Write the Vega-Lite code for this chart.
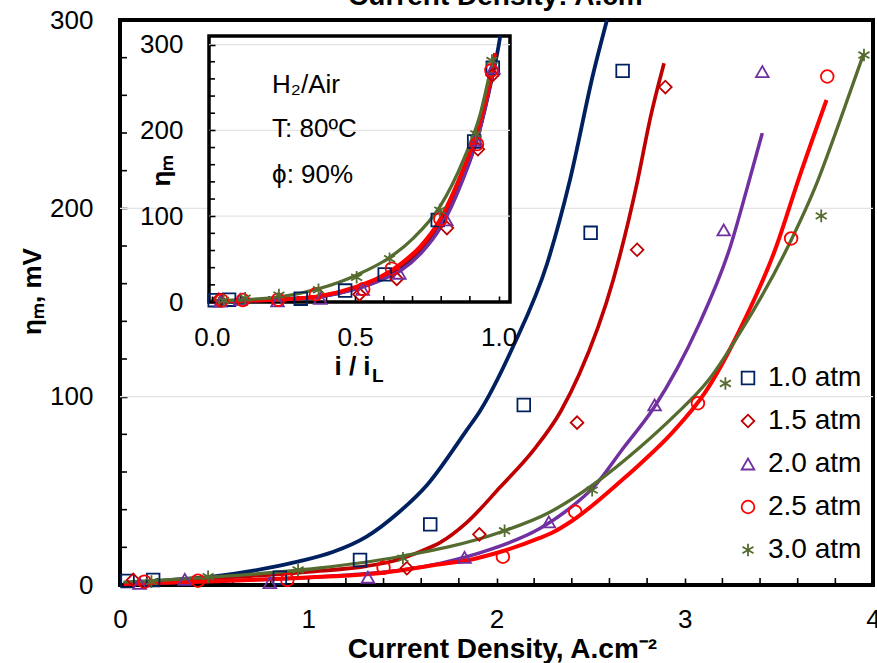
{
  "$schema": "https://vega.github.io/schema/vega-lite/v6.json",
  "width": 753,
  "height": 565,
  "autosize": {"type": "none"},
  "padding": {"left": 120, "top": 20, "right": 4, "bottom": 78},
  "background": "white",
  "config": {
    "font": "Liberation Sans",
    "view": {"stroke": "black", "strokeWidth": 4},
    "axis": {
      "labelFont": "Liberation Sans",
      "labelFontSize": 26,
      "labelColor": "black",
      "titleFont": "Liberation Sans",
      "titleFontSize": 26,
      "titleFontWeight": "bold",
      "titleColor": "black",
      "tickColor": "black",
      "tickWidth": 1.6,
      "domain": false,
      "grid": false
    },
    "legend": {
      "labelFont": "Liberation Sans",
      "labelFontSize": 28,
      "labelColor": "black",
      "symbolSize": 160,
      "symbolStrokeWidth": 1.8,
      "rowPadding": 15,
      "labelOffset": 6,
      "padding": 0
    }
  },
  "datasets": {
    "fit": [
      {"s": "1.0 atm", "j": 0.02, "eta": 1},
      {"s": "1.0 atm", "j": 0.25, "eta": 2.5},
      {"s": "1.0 atm", "j": 0.49, "eta": 4.4},
      {"s": "1.0 atm", "j": 0.78, "eta": 8.9},
      {"s": "1.0 atm", "j": 0.95, "eta": 12.5},
      {"s": "1.0 atm", "j": 1.13, "eta": 17.5},
      {"s": "1.0 atm", "j": 1.31, "eta": 25.7},
      {"s": "1.0 atm", "j": 1.48, "eta": 38.5},
      {"s": "1.0 atm", "j": 1.63, "eta": 53},
      {"s": "1.0 atm", "j": 1.84, "eta": 82},
      {"s": "1.0 atm", "j": 1.91, "eta": 92},
      {"s": "1.0 atm", "j": 2.09, "eta": 127},
      {"s": "1.0 atm", "j": 2.27, "eta": 171},
      {"s": "1.0 atm", "j": 2.39, "eta": 215},
      {"s": "1.0 atm", "j": 2.515, "eta": 272},
      {"s": "1.0 atm", "j": 2.587, "eta": 300},
      {"s": "1.5 atm", "j": 0.02, "eta": 1},
      {"s": "1.5 atm", "j": 0.5, "eta": 3.5},
      {"s": "1.5 atm", "j": 1.0, "eta": 7},
      {"s": "1.5 atm", "j": 1.31, "eta": 10},
      {"s": "1.5 atm", "j": 1.48, "eta": 13.5},
      {"s": "1.5 atm", "j": 1.6, "eta": 18},
      {"s": "1.5 atm", "j": 1.7, "eta": 22.5},
      {"s": "1.5 atm", "j": 1.84, "eta": 33},
      {"s": "1.5 atm", "j": 2.02, "eta": 52},
      {"s": "1.5 atm", "j": 2.2, "eta": 72},
      {"s": "1.5 atm", "j": 2.34, "eta": 92},
      {"s": "1.5 atm", "j": 2.44, "eta": 112},
      {"s": "1.5 atm", "j": 2.62, "eta": 162},
      {"s": "1.5 atm", "j": 2.75, "eta": 215},
      {"s": "1.5 atm", "j": 2.815, "eta": 247},
      {"s": "1.5 atm", "j": 2.89, "eta": 277},
      {"s": "2.0 atm", "j": 0.02, "eta": 0.5},
      {"s": "2.0 atm", "j": 0.5, "eta": 2},
      {"s": "2.0 atm", "j": 1.0, "eta": 4},
      {"s": "2.0 atm", "j": 1.3, "eta": 6},
      {"s": "2.0 atm", "j": 1.5, "eta": 8},
      {"s": "2.0 atm", "j": 1.7, "eta": 11.5},
      {"s": "2.0 atm", "j": 1.96, "eta": 18.6},
      {"s": "2.0 atm", "j": 2.23, "eta": 30},
      {"s": "2.0 atm", "j": 2.4, "eta": 41.6},
      {"s": "2.0 atm", "j": 2.516, "eta": 52},
      {"s": "2.0 atm", "j": 2.676, "eta": 73},
      {"s": "2.0 atm", "j": 2.835, "eta": 94},
      {"s": "2.0 atm", "j": 2.96, "eta": 115},
      {"s": "2.0 atm", "j": 3.074, "eta": 138},
      {"s": "2.0 atm", "j": 3.243, "eta": 180},
      {"s": "2.0 atm", "j": 3.332, "eta": 211},
      {"s": "2.0 atm", "j": 3.412, "eta": 240},
      {"s": "2.5 atm", "j": 0.02, "eta": 0.5},
      {"s": "2.5 atm", "j": 0.5, "eta": 2},
      {"s": "2.5 atm", "j": 1.0, "eta": 4},
      {"s": "2.5 atm", "j": 1.4, "eta": 6.5},
      {"s": "2.5 atm", "j": 1.7, "eta": 11},
      {"s": "2.5 atm", "j": 1.84, "eta": 13},
      {"s": "2.5 atm", "j": 2.0, "eta": 17},
      {"s": "2.5 atm", "j": 2.23, "eta": 25},
      {"s": "2.5 atm", "j": 2.3, "eta": 28},
      {"s": "2.5 atm", "j": 2.4, "eta": 34},
      {"s": "2.5 atm", "j": 2.67, "eta": 56},
      {"s": "2.5 atm", "j": 2.76, "eta": 64},
      {"s": "2.5 atm", "j": 2.93, "eta": 80.5},
      {"s": "2.5 atm", "j": 3.11, "eta": 102.5},
      {"s": "2.5 atm", "j": 3.29, "eta": 135},
      {"s": "2.5 atm", "j": 3.48, "eta": 178},
      {"s": "2.5 atm", "j": 3.61, "eta": 217},
      {"s": "2.5 atm", "j": 3.753, "eta": 257.5},
      {"s": "3.0 atm", "j": 0.02, "eta": 1.5},
      {"s": "3.0 atm", "j": 0.52, "eta": 4.4},
      {"s": "3.0 atm", "j": 1.05, "eta": 8.9},
      {"s": "3.0 atm", "j": 1.48, "eta": 15},
      {"s": "3.0 atm", "j": 2.02, "eta": 28},
      {"s": "3.0 atm", "j": 2.28, "eta": 38.5},
      {"s": "3.0 atm", "j": 2.51, "eta": 53},
      {"s": "3.0 atm", "j": 2.765, "eta": 73.4},
      {"s": "3.0 atm", "j": 2.94, "eta": 89.4},
      {"s": "3.0 atm", "j": 3.12, "eta": 108},
      {"s": "3.0 atm", "j": 3.3, "eta": 135},
      {"s": "3.0 atm", "j": 3.54, "eta": 178},
      {"s": "3.0 atm", "j": 3.7, "eta": 213},
      {"s": "3.0 atm", "j": 3.826, "eta": 247},
      {"s": "3.0 atm", "j": 3.95, "eta": 282}
    ],
    "pts": [
      {"s": "1.0 atm", "j": 0.04, "eta": 2.1},
      {"s": "1.0 atm", "j": 0.176, "eta": 2.7},
      {"s": "1.0 atm", "j": 0.849, "eta": 3.9},
      {"s": "1.0 atm", "j": 1.275, "eta": 13.3},
      {"s": "1.0 atm", "j": 1.648, "eta": 32.2},
      {"s": "1.0 atm", "j": 2.145, "eta": 95.6},
      {"s": "1.0 atm", "j": 2.5, "eta": 187},
      {"s": "1.0 atm", "j": 2.67, "eta": 273},
      {"s": "1.5 atm", "j": 0.07, "eta": 2.7},
      {"s": "1.5 atm", "j": 1.524, "eta": 8.9},
      {"s": "1.5 atm", "j": 1.909, "eta": 26.9},
      {"s": "1.5 atm", "j": 2.428, "eta": 86.2},
      {"s": "1.5 atm", "j": 2.747, "eta": 178},
      {"s": "1.5 atm", "j": 2.897, "eta": 264.4},
      {"s": "2.0 atm", "j": 0.104, "eta": 0.9},
      {"s": "2.0 atm", "j": 0.344, "eta": 3},
      {"s": "2.0 atm", "j": 0.796, "eta": 1.2},
      {"s": "2.0 atm", "j": 1.317, "eta": 4.1},
      {"s": "2.0 atm", "j": 1.83, "eta": 14.7},
      {"s": "2.0 atm", "j": 2.278, "eta": 33.5},
      {"s": "2.0 atm", "j": 2.84, "eta": 95.6},
      {"s": "2.0 atm", "j": 3.207, "eta": 188.5},
      {"s": "2.0 atm", "j": 3.412, "eta": 272.6},
      {"s": "2.5 atm", "j": 0.13, "eta": 1.8},
      {"s": "2.5 atm", "j": 0.414, "eta": 2.3},
      {"s": "2.5 atm", "j": 0.889, "eta": 2.7},
      {"s": "2.5 atm", "j": 1.4, "eta": 9.2},
      {"s": "2.5 atm", "j": 2.034, "eta": 15},
      {"s": "2.5 atm", "j": 2.418, "eta": 38.9},
      {"s": "2.5 atm", "j": 3.07, "eta": 96.5},
      {"s": "2.5 atm", "j": 3.565, "eta": 184},
      {"s": "2.5 atm", "j": 3.757, "eta": 270},
      {"s": "3.0 atm", "j": 0.167, "eta": 1.8},
      {"s": "3.0 atm", "j": 0.468, "eta": 4.4},
      {"s": "3.0 atm", "j": 0.946, "eta": 8},
      {"s": "3.0 atm", "j": 1.503, "eta": 14.2},
      {"s": "3.0 atm", "j": 2.043, "eta": 28.8},
      {"s": "3.0 atm", "j": 2.508, "eta": 50.4},
      {"s": "3.0 atm", "j": 3.216, "eta": 107},
      {"s": "3.0 atm", "j": 3.725, "eta": 196},
      {"s": "3.0 atm", "j": 3.952, "eta": 281.4}
    ],
    "ifit": [
      {"s": "1.0 atm", "r": 0, "eta": 1},
      {"s": "1.0 atm", "r": 0.1, "eta": 1.5},
      {"s": "1.0 atm", "r": 0.24, "eta": 3},
      {"s": "1.0 atm", "r": 0.38, "eta": 6.5},
      {"s": "1.0 atm", "r": 0.506, "eta": 16},
      {"s": "1.0 atm", "r": 0.6, "eta": 28},
      {"s": "1.0 atm", "r": 0.66, "eta": 39},
      {"s": "1.0 atm", "r": 0.73, "eta": 58},
      {"s": "1.0 atm", "r": 0.8, "eta": 90},
      {"s": "1.0 atm", "r": 0.87, "eta": 140},
      {"s": "1.0 atm", "r": 0.93, "eta": 196},
      {"s": "1.0 atm", "r": 0.975, "eta": 258},
      {"s": "1.0 atm", "r": 1.0, "eta": 298},
      {"s": "1.0 atm", "r": 1.006, "eta": 310},
      {"s": "1.5 atm", "r": 0, "eta": 1},
      {"s": "1.5 atm", "r": 0.1, "eta": 1.5},
      {"s": "1.5 atm", "r": 0.24, "eta": 3},
      {"s": "1.5 atm", "r": 0.38, "eta": 7},
      {"s": "1.5 atm", "r": 0.506, "eta": 17},
      {"s": "1.5 atm", "r": 0.59, "eta": 29},
      {"s": "1.5 atm", "r": 0.66, "eta": 43},
      {"s": "1.5 atm", "r": 0.73, "eta": 63},
      {"s": "1.5 atm", "r": 0.8, "eta": 96},
      {"s": "1.5 atm", "r": 0.87, "eta": 148},
      {"s": "1.5 atm", "r": 0.93, "eta": 203},
      {"s": "1.5 atm", "r": 0.98, "eta": 275},
      {"s": "2.0 atm", "r": 0, "eta": 0.5},
      {"s": "2.0 atm", "r": 0.1, "eta": 1.3},
      {"s": "2.0 atm", "r": 0.24, "eta": 2.5},
      {"s": "2.0 atm", "r": 0.38, "eta": 6},
      {"s": "2.0 atm", "r": 0.506, "eta": 15.5},
      {"s": "2.0 atm", "r": 0.6, "eta": 27},
      {"s": "2.0 atm", "r": 0.66, "eta": 37},
      {"s": "2.0 atm", "r": 0.73, "eta": 57},
      {"s": "2.0 atm", "r": 0.8, "eta": 88},
      {"s": "2.0 atm", "r": 0.87, "eta": 138},
      {"s": "2.0 atm", "r": 0.93, "eta": 195},
      {"s": "2.0 atm", "r": 0.982, "eta": 270},
      {"s": "2.5 atm", "r": 0, "eta": 1},
      {"s": "2.5 atm", "r": 0.1, "eta": 1.5},
      {"s": "2.5 atm", "r": 0.24, "eta": 3},
      {"s": "2.5 atm", "r": 0.38, "eta": 7},
      {"s": "2.5 atm", "r": 0.506, "eta": 18},
      {"s": "2.5 atm", "r": 0.587, "eta": 29},
      {"s": "2.5 atm", "r": 0.657, "eta": 44},
      {"s": "2.5 atm", "r": 0.727, "eta": 64.7},
      {"s": "2.5 atm", "r": 0.796, "eta": 96},
      {"s": "2.5 atm", "r": 0.866, "eta": 146},
      {"s": "2.5 atm", "r": 0.924, "eta": 197},
      {"s": "2.5 atm", "r": 0.971, "eta": 258},
      {"s": "2.5 atm", "r": 0.988, "eta": 290},
      {"s": "3.0 atm", "r": 0, "eta": 1.5},
      {"s": "3.0 atm", "r": 0.1, "eta": 2.5},
      {"s": "3.0 atm", "r": 0.238, "eta": 6},
      {"s": "3.0 atm", "r": 0.378, "eta": 16},
      {"s": "3.0 atm", "r": 0.506, "eta": 31.6},
      {"s": "3.0 atm", "r": 0.616, "eta": 51},
      {"s": "3.0 atm", "r": 0.703, "eta": 74.5},
      {"s": "3.0 atm", "r": 0.796, "eta": 111.5},
      {"s": "3.0 atm", "r": 0.878, "eta": 166},
      {"s": "3.0 atm", "r": 0.936, "eta": 218.7},
      {"s": "3.0 atm", "r": 0.977, "eta": 277},
      {"s": "3.0 atm", "r": 0.983, "eta": 285}
    ],
    "ipts": [
      {"s": "1.0 atm", "r": 0.01, "eta": 2.1},
      {"s": "1.0 atm", "r": 0.06, "eta": 2.7},
      {"s": "1.0 atm", "r": 0.31, "eta": 3.9},
      {"s": "1.0 atm", "r": 0.465, "eta": 13.3},
      {"s": "1.0 atm", "r": 0.603, "eta": 32.2},
      {"s": "1.0 atm", "r": 0.788, "eta": 95.6},
      {"s": "1.0 atm", "r": 0.915, "eta": 187},
      {"s": "1.0 atm", "r": 0.98, "eta": 273},
      {"s": "1.5 atm", "r": 0.024, "eta": 2.7},
      {"s": "1.5 atm", "r": 0.515, "eta": 8.9},
      {"s": "1.5 atm", "r": 0.645, "eta": 26.9},
      {"s": "1.5 atm", "r": 0.82, "eta": 86.2},
      {"s": "1.5 atm", "r": 0.928, "eta": 178},
      {"s": "1.5 atm", "r": 0.979, "eta": 264.4},
      {"s": "2.0 atm", "r": 0.03, "eta": 0.9},
      {"s": "2.0 atm", "r": 0.099, "eta": 3},
      {"s": "2.0 atm", "r": 0.229, "eta": 1.2},
      {"s": "2.0 atm", "r": 0.378, "eta": 4.1},
      {"s": "2.0 atm", "r": 0.526, "eta": 14.7},
      {"s": "2.0 atm", "r": 0.654, "eta": 33.5},
      {"s": "2.0 atm", "r": 0.818, "eta": 95.6},
      {"s": "2.0 atm", "r": 0.922, "eta": 188.5},
      {"s": "2.0 atm", "r": 0.982, "eta": 272.6},
      {"s": "2.5 atm", "r": 0.034, "eta": 1.8},
      {"s": "2.5 atm", "r": 0.108, "eta": 2.3},
      {"s": "2.5 atm", "r": 0.231, "eta": 2.7},
      {"s": "2.5 atm", "r": 0.363, "eta": 9.2},
      {"s": "2.5 atm", "r": 0.528, "eta": 15},
      {"s": "2.5 atm", "r": 0.628, "eta": 38.9},
      {"s": "2.5 atm", "r": 0.797, "eta": 96.5},
      {"s": "2.5 atm", "r": 0.925, "eta": 184},
      {"s": "2.5 atm", "r": 0.975, "eta": 270},
      {"s": "3.0 atm", "r": 0.041, "eta": 1.8},
      {"s": "3.0 atm", "r": 0.116, "eta": 4.4},
      {"s": "3.0 atm", "r": 0.234, "eta": 8},
      {"s": "3.0 atm", "r": 0.372, "eta": 14.2},
      {"s": "3.0 atm", "r": 0.505, "eta": 28.8},
      {"s": "3.0 atm", "r": 0.62, "eta": 50.4},
      {"s": "3.0 atm", "r": 0.795, "eta": 107},
      {"s": "3.0 atm", "r": 0.921, "eta": 196},
      {"s": "3.0 atm", "r": 0.977, "eta": 281.4}
    ]
  },
  "layer": [
    {
      "layer": [
        {
          "data": {"values": [{"g": 100}, {"g": 200}]},
          "mark": {"type": "rule", "color": "#E4E4E4", "strokeWidth": 1.3},
          "encoding": {
            "x": {"datum": 0, "type": "quantitative", "scale": {"domain": [0, 4], "nice": false, "zero": false}},
            "x2": {"datum": 4},
            "y": {"field": "g", "type": "quantitative", "scale": {"domain": [0, 300], "nice": false, "zero": false}}
          }
        },
        {
          "data": {"values": [{"v": 20}, {"v": 40}, {"v": 60}, {"v": 80}, {"v": 120}, {"v": 140}, {"v": 160}, {"v": 180}, {"v": 220}, {"v": 240}, {"v": 260}, {"v": 280}]},
          "mark": {"type": "rule", "color": "black", "strokeWidth": 1.6},
          "encoding": {
            "x": {"datum": 0, "type": "quantitative", "scale": {"domain": [0, 4], "nice": false, "zero": false}},
            "x2": {"datum": 0.037},
            "y": {"field": "v", "type": "quantitative", "scale": {"domain": [0, 300], "nice": false, "zero": false}}
          }
        },
        {
          "data": {"values": [{"v": 0.2}, {"v": 0.4}, {"v": 0.6}, {"v": 0.8}, {"v": 1.2}, {"v": 1.4}, {"v": 1.6}, {"v": 1.8}, {"v": 2.2}, {"v": 2.4}, {"v": 2.6}, {"v": 2.8}, {"v": 3.2}, {"v": 3.4}, {"v": 3.6}, {"v": 3.8}]},
          "mark": {"type": "rule", "color": "black", "strokeWidth": 1.6},
          "encoding": {
            "x": {"field": "v", "type": "quantitative", "scale": {"domain": [0, 4], "nice": false, "zero": false}},
            "y": {"datum": 0, "type": "quantitative", "scale": {"domain": [0, 300], "nice": false, "zero": false}},
            "y2": {"datum": 3.7}
          }
        },
        {
          "data": {"name": "fit"},
          "mark": {"type": "line", "interpolate": "monotone"},
          "encoding": {
            "x": {
              "field": "j", "type": "quantitative",
              "scale": {"domain": [0, 4], "nice": false, "zero": false},
              "axis": {
                "orient": "bottom",
                "values": [0, 1, 2, 3, 4],
                "format": "d",
                "tickSize": -7,
                "labelPadding": 49,
                "labelBaseline": "alphabetic",
                "labelFlush": false,
                "labelOverlap": false,
                "zindex": 0,
                "title": "Current Density, A.cm⁻²",
                "titleFontSize": 28,
                "titleX": 382,
                "titleY": 72,
                "titleAlign": "center",
                "titleBaseline": "alphabetic"
              }
            },
            "y": {
              "field": "eta", "type": "quantitative",
              "scale": {"domain": [0, 300], "nice": false, "zero": false},
              "axis": {
                "orient": "left",
                "values": [0, 100, 200, 300],
                "format": "d",
                "tickSize": -7,
                "labelPadding": 34,
                "labelBaseline": "middle",
                "labelFlush": false,
                "labelOverlap": false,
                "zindex": 0,
                "title": "ηₘ, mV",
                "titleX": -88,
                "titleY": 271,
                "titleAngle": -90,
                "titleAlign": "center",
                "titleBaseline": "middle"
              }
            },
            "stroke": {
              "field": "s", "type": "nominal",
              "scale": {"domain": ["3.0 atm", "2.5 atm", "2.0 atm", "1.5 atm", "1.0 atm"], "range": ["#556B2F", "#FF0000", "#7030A0", "#C00000", "#002060"]},
              "legend": null
            },
            "strokeWidth": {
              "field": "s", "type": "nominal",
              "scale": {"domain": ["2.5 atm", "1.0 atm", "1.5 atm", "2.0 atm", "3.0 atm"], "range": [4, 3.3, 3.3, 3.3, 3.4]},
              "legend": null
            }
          }
        },
        {
          "data": {"name": "pts"},
          "mark": {"type": "point", "filled": false, "strokeWidth": 1.8, "opacity": 1, "size": 160},
          "encoding": {
            "x": {"field": "j", "type": "quantitative", "scale": {"domain": [0, 4], "nice": false, "zero": false}},
            "y": {"field": "eta", "type": "quantitative", "scale": {"domain": [0, 300], "nice": false, "zero": false}},
            "color": {
              "field": "s", "type": "nominal",
              "scale": {"domain": ["1.0 atm", "1.5 atm", "2.0 atm", "2.5 atm", "3.0 atm"], "range": ["#002060", "#C00000", "#7030A0", "#FF0000", "#556B2F"]},
              "legend": {"title": null, "orient": "none", "legendX": 614, "legendY": 344}
            },
            "shape": {
              "field": "s", "type": "nominal",
              "scale": {"domain": ["1.0 atm", "1.5 atm", "2.0 atm", "2.5 atm", "3.0 atm"], "range": ["square", "diamond", "triangle-up", "circle", "M0,-1L0,1M-0.87,-0.5L0.87,0.5M-0.87,0.5L0.87,-0.5"]},
              "legend": {"title": null, "orient": "none", "legendX": 614, "legendY": 344}
            }
          }
        },
        {
          "data": {"values": [{}]},
          "mark": {"type": "text", "text": "Current Density: A.cm", "fontSize": 28, "fontWeight": "bold", "align": "center", "baseline": "alphabetic", "color": "black"},
          "encoding": {
            "x": {"datum": 1.994, "type": "quantitative", "scale": {"domain": [0, 4], "nice": false, "zero": false}},
            "y": {"datum": 308, "type": "quantitative", "scale": {"domain": [0, 300], "nice": false, "zero": false}}
          }
        }
      ]
    },
    {
      "layer": [
        {
          "data": {"values": [{}]},
          "mark": {"type": "rect", "fill": "white", "stroke": "black", "strokeWidth": 3.5},
          "encoding": {
            "x": {"datum": -0.01, "type": "quantitative", "scale": {"domain": [-0.01, 1.04], "range": [89, 390], "nice": false, "zero": false}},
            "x2": {"datum": 1.04},
            "y": {"datum": 0, "type": "quantitative", "scale": {"domain": [0, 310], "range": [282, 16], "nice": false, "zero": false}},
            "y2": {"datum": 310}
          }
        },
        {
          "data": {"values": [{"g": 100}, {"g": 200}, {"g": 300}]},
          "mark": {"type": "rule", "color": "#E4E4E4", "strokeWidth": 1.3},
          "encoding": {
            "x": {"datum": -0.01, "type": "quantitative", "scale": {"domain": [-0.01, 1.04], "range": [89, 390], "nice": false, "zero": false}},
            "x2": {"datum": 1.04},
            "y": {"field": "g", "type": "quantitative", "scale": {"domain": [0, 310], "range": [282, 16], "nice": false, "zero": false}}
          }
        },
        {
          "data": {"values": [{"v": 20}, {"v": 40}, {"v": 60}, {"v": 80}, {"v": 120}, {"v": 140}, {"v": 160}, {"v": 180}, {"v": 220}, {"v": 240}, {"v": 260}, {"v": 280}]},
          "mark": {"type": "rule", "color": "black", "strokeWidth": 1.6},
          "encoding": {
            "x": {"datum": -0.01, "type": "quantitative", "scale": {"domain": [-0.01, 1.04], "range": [89, 390], "nice": false, "zero": false}},
            "x2": {"datum": 0.011},
            "y": {"field": "v", "type": "quantitative", "scale": {"domain": [0, 310], "range": [282, 16], "nice": false, "zero": false}}
          }
        },
        {
          "data": {"values": [{"v": 0.1}, {"v": 0.2}, {"v": 0.3}, {"v": 0.4}, {"v": 0.6}, {"v": 0.7}, {"v": 0.8}, {"v": 0.9}]},
          "mark": {"type": "rule", "color": "black", "strokeWidth": 1.6},
          "encoding": {
            "x": {"field": "v", "type": "quantitative", "scale": {"domain": [-0.01, 1.04], "range": [89, 390], "nice": false, "zero": false}},
            "y": {"datum": 0, "type": "quantitative", "scale": {"domain": [0, 310], "range": [282, 16], "nice": false, "zero": false}},
            "y2": {"datum": 7}
          }
        },
        {
          "data": {"values": [{}]},
          "mark": {"type": "text", "text": "H₂/Air", "fontSize": 26, "align": "left", "baseline": "alphabetic", "color": "black"},
          "encoding": {
            "x": {"datum": 0.21, "type": "quantitative", "scale": {"domain": [-0.01, 1.04], "range": [89, 390], "nice": false, "zero": false}},
            "y": {"datum": 243.6, "type": "quantitative", "scale": {"domain": [0, 310], "range": [282, 16], "nice": false, "zero": false}}
          }
        },
        {
          "data": {"values": [{}]},
          "mark": {"type": "text", "text": "T: 80ºC", "fontSize": 26, "align": "left", "baseline": "alphabetic", "color": "black"},
          "encoding": {
            "x": {"datum": 0.21, "type": "quantitative", "scale": {"domain": [-0.01, 1.04], "range": [89, 390], "nice": false, "zero": false}},
            "y": {"datum": 192.3, "type": "quantitative", "scale": {"domain": [0, 310], "range": [282, 16], "nice": false, "zero": false}}
          }
        },
        {
          "data": {"values": [{}]},
          "mark": {"type": "text", "text": "ϕ: 90%", "fontSize": 26, "align": "left", "baseline": "alphabetic", "color": "black"},
          "encoding": {
            "x": {"datum": 0.21, "type": "quantitative", "scale": {"domain": [-0.01, 1.04], "range": [89, 390], "nice": false, "zero": false}},
            "y": {"datum": 138.7, "type": "quantitative", "scale": {"domain": [0, 310], "range": [282, 16], "nice": false, "zero": false}}
          }
        },
        {
          "data": {"name": "ifit"},
          "mark": {"type": "line", "interpolate": "monotone"},
          "encoding": {
            "x": {
              "field": "r", "type": "quantitative",
              "scale": {"domain": [-0.01, 1.04], "range": [89, 390], "nice": false, "zero": false},
              "axis": {
                "orient": "bottom",
                "offset": -283,
                "values": [0, 0.5, 1],
                "format": ".1f",
                "tickSize": -6,
                "labelPadding": 49,
                "labelBaseline": "alphabetic",
                "labelFlush": false,
                "labelOverlap": false,
                "zindex": 1,
                "title": "i / i",
                "titleX": 232,
                "titleY": 72,
                "titleAlign": "center",
                "titleBaseline": "alphabetic"
              }
            },
            "y": {
              "field": "eta", "type": "quantitative",
              "scale": {"domain": [0, 310], "range": [282, 16], "nice": false, "zero": false},
              "axis": {
                "orient": "left",
                "offset": -89,
                "values": [0, 100, 200, 300],
                "format": "d",
                "tickSize": -6,
                "labelPadding": 32,
                "labelBaseline": "middle",
                "labelFlush": false,
                "labelOverlap": false,
                "zindex": 1,
                "title": "ηₘ",
                "titleX": -48,
                "titleY": 150,
                "titleAngle": -90,
                "titleAlign": "center",
                "titleBaseline": "middle"
              }
            },
            "stroke": {
              "field": "s", "type": "nominal",
              "scale": {"domain": ["3.0 atm", "2.5 atm", "2.0 atm", "1.5 atm", "1.0 atm"], "range": ["#556B2F", "#FF0000", "#7030A0", "#C00000", "#002060"]},
              "legend": null
            },
            "strokeWidth": {
              "field": "s", "type": "nominal",
              "scale": {"domain": ["2.5 atm", "1.0 atm", "1.5 atm", "2.0 atm", "3.0 atm"], "range": [4, 3.3, 3.3, 3.3, 3.4]},
              "legend": null
            }
          }
        },
        {
          "data": {"name": "ipts"},
          "mark": {"type": "point", "filled": false, "strokeWidth": 1.8, "opacity": 1, "size": 160},
          "encoding": {
            "x": {"field": "r", "type": "quantitative", "scale": {"domain": [-0.01, 1.04], "range": [89, 390], "nice": false, "zero": false}},
            "y": {"field": "eta", "type": "quantitative", "scale": {"domain": [0, 310], "range": [282, 16], "nice": false, "zero": false}},
            "color": {
              "field": "s", "type": "nominal",
              "scale": {"domain": ["1.0 atm", "1.5 atm", "2.0 atm", "2.5 atm", "3.0 atm"], "range": ["#002060", "#C00000", "#7030A0", "#FF0000", "#556B2F"]}
            },
            "shape": {
              "field": "s", "type": "nominal",
              "scale": {"domain": ["1.0 atm", "1.5 atm", "2.0 atm", "2.5 atm", "3.0 atm"], "range": ["square", "diamond", "triangle-up", "circle", "M0,-1L0,1M-0.87,-0.5L0.87,0.5M-0.87,0.5L0.87,-0.5"]}
            }
          }
        },
        {
          "data": {"values": [{}]},
          "mark": {"type": "text", "text": "L", "fontSize": 19, "fontWeight": "bold", "align": "left", "baseline": "alphabetic", "color": "black"},
          "encoding": {
            "x": {"datum": 0.559, "type": "quantitative", "scale": {"domain": [-0.01, 1.04], "range": [89, 390], "nice": false, "zero": false}},
            "y": {"datum": -93.2, "type": "quantitative", "scale": {"domain": [0, 310], "range": [282, 16], "nice": false, "zero": false}}
          }
        }
      ]
    }
  ],
  "resolve": {
    "scale": {"x": "independent", "y": "independent"},
    "axis": {"x": "independent", "y": "independent"}
  }
}
